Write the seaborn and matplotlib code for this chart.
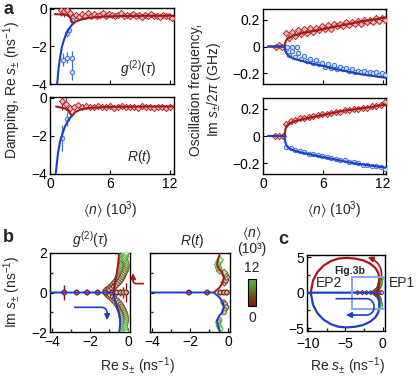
import matplotlib

matplotlib.use("Agg", force=True)

import matplotlib.pyplot as plt
import seaborn as sns
import numpy as np
from matplotlib.colors import LinearSegmentedColormap, Normalize
from matplotlib.cm import ScalarMappable
from matplotlib.patches import Rectangle, PathPatch
from matplotlib.path import Path
from matplotlib.ticker import MultipleLocator, FixedLocator, FixedFormatter

# ---------------- data ----------------
# panel a, top-left: g2 damping
tl_red_x = [1.1, 1.4, 1.7, 2.0, 2.3, 2.6, 2.9, 3.2, 3.5, 3.8, 4.1, 4.4, 4.7, 5.0, 5.3, 5.6, 5.9, 6.2, 6.5,
            6.8, 7.1, 7.4, 7.7, 8.0, 8.3, 8.6, 8.9, 9.2, 9.5, 9.8, 10.1, 10.4, 10.7, 11.0, 11.3, 11.6, 11.9, 12.2]
tl_red_y = [-0.05, -0.1, -0.05, -0.2, -0.45, -0.3, -0.45, -0.25, -0.4, -0.2, -0.35, -0.25, -0.4, -0.3, -0.2,
            -0.35, -0.25, -0.3, -0.4, -0.3, -0.2, -0.35, -0.3, -0.4, -0.25, -0.35, -0.3, -0.45, -0.3, -0.35,
            -0.25, -0.4, -0.35, -0.45, -0.3, -0.4, -0.35, -0.5]
tl_red_err = [0.3, 0.35, 0.3, 0.25, 0.2] + [0.06] * 33
tl_blue_x = [1.65, 1.85, 2.2, 1.25, 1.65, 2.15, 2.15]
tl_blue_y = [-1.3, -1.1, -0.6, -2.7, -2.6, -2.6, -3.35]
tl_blue_err = [0.2, 0.15, 0.1, 0.35, 0.3, 0.35, 0.45]
tl_red_fit_x = [0.5, 1.0, 1.5, 1.8, 2.0, 2.15, 2.3, 2.5, 2.8, 3.3, 4.0, 5.3, 7.0, 9.0, 12.4]
tl_red_fit_y = [-0.28, -0.29, -0.31, -0.34, -0.45, -0.62, -0.8, -0.7, -0.62, -0.54, -0.47, -0.41, -0.38, -0.37, -0.36]
tl_blue_fit_x = [2.3, 2.2, 2.0, 1.8, 1.6, 1.4, 1.2, 1.0, 0.85, 0.7]
tl_blue_fit_y = [-0.8, -0.85, -0.98, -1.15, -1.35, -1.65, -2.0, -2.6, -3.2, -4.1]

# panel a, bottom-left: R(t) damping
bl_red_x = [1.2, 1.6, 2.0, 2.4, 2.8, 3.2, 3.6, 4.0, 4.4, 4.8, 5.2, 5.6, 6.0, 6.4, 6.8, 7.2, 7.6, 8.0, 8.4,
            8.8, 9.2, 9.6, 10.0, 10.4, 10.8, 11.2, 11.6, 12.0]
bl_red_y = [-0.15, -0.3, -0.55, -0.5, -0.35, -0.45, -0.4, -0.5, -0.45, -0.4, -0.5, -0.45, -0.4, -0.55, -0.45,
            -0.4, -0.5, -0.45, -0.45, -0.55, -0.4, -0.5, -0.45, -0.55, -0.5, -0.45, -0.55, -0.5]
bl_red_err = [0.5, 0.35, 0.2] + [0.05] * 25
bl_blue_x = [1.15, 1.7]
bl_blue_y = [-2.1, -1.1]
bl_blue_err = [0.7, 0.35]
bl_red_fit_x = [0.6, 1.0, 1.5, 1.8, 2.0, 2.2, 2.5, 3.0, 3.5, 4.0, 5.0, 6.0, 8.0, 10.0, 12.4]
bl_red_fit_y = [-0.45, -0.5, -0.55, -0.65, -0.8, -0.95, -0.75, -0.62, -0.56, -0.52, -0.49, -0.47, -0.46, -0.45, -0.45]
bl_blue_fit_x = [2.2, 2.0, 1.8, 1.5, 1.3, 1.0, 0.8, 0.55]
bl_blue_fit_y = [-0.95, -1.05, -1.2, -1.5, -1.8, -2.3, -2.9, -4.1]

# panel a, top-right: g2 frequency
tr_x = [2.3, 2.6, 2.9, 3.2, 3.5, 3.8, 4.1, 4.4, 4.7, 5.0, 5.3, 5.6, 5.9, 6.2, 6.5, 6.8, 7.1, 7.4, 7.7, 8.0,
        8.3, 8.6, 8.9, 9.2, 9.5, 9.8, 10.1, 10.4, 10.7, 11.0, 11.3, 11.6, 11.9, 12.2]
tr_red_y = [0.1, 0.06, 0.11, 0.08, 0.12, 0.09, 0.13, 0.1, 0.14, 0.11, 0.14, 0.12, 0.15, 0.13, 0.16, 0.13,
            0.17, 0.15, 0.17, 0.15, 0.18, 0.16, 0.18, 0.17, 0.19, 0.17, 0.2, 0.18, 0.2, 0.18, 0.21, 0.19, 0.21, 0.2]
tr_blue_y = [-0.02, -0.06, -0.03, -0.08, -0.05, -0.09, -0.07, -0.11, -0.09, -0.12, -0.1, -0.13, -0.12, -0.15,
             -0.13, -0.16, -0.14, -0.17, -0.15, -0.17, -0.16, -0.18, -0.17, -0.19, -0.18, -0.19, -0.18, -0.2,
             -0.19, -0.2, -0.19, -0.21, -0.2, -0.21]
tr_red0_x = [1.3, 1.6, 1.9]
tr_red0_y = [0.0, 0.01, 0.0]
tr_blue0_x = [2.4, 2.9, 3.4]
tr_blue0_y = [0.0, 0.0, 0.0]
tr_fit_x = [0.5, 1.5, 2.0, 2.15, 2.2, 2.25, 2.35, 2.5, 3.0, 4.0, 5.0, 6.0, 7.0, 8.0, 9.0, 10.0, 11.0, 12.4]
tr_red_fit_y = [0, 0, 0, 0, 0.02, 0.035, 0.05, 0.06, 0.08, 0.1, 0.115, 0.13, 0.145, 0.16, 0.175, 0.19, 0.2, 0.22]
tr_blue_fit_y = [0, 0, 0, 0, -0.02, -0.035, -0.05, -0.065, -0.09, -0.11, -0.13, -0.145, -0.165, -0.18,
                 -0.195, -0.21, -0.22, -0.235]

# panel a, bottom-right: R(t) frequency
br_x = [2.3, 2.75, 3.2, 3.65, 4.1, 4.55, 5.0, 5.45, 5.9, 6.35, 6.8, 7.25, 7.7, 8.15, 8.6, 9.05, 9.5, 9.95,
        10.4, 10.85, 11.3, 11.75, 12.2]
br_red_y = [0.09, 0.11, 0.12, 0.13, 0.135, 0.14, 0.15, 0.155, 0.16, 0.165, 0.17, 0.175, 0.18, 0.19, 0.19,
            0.2, 0.2, 0.21, 0.21, 0.22, 0.22, 0.23, 0.25]
br_blue_y = [-0.08, -0.09, -0.1, -0.11, -0.12, -0.13, -0.135, -0.14, -0.15, -0.155, -0.16, -0.17, -0.175,
             -0.18, -0.19, -0.19, -0.2, -0.21, -0.21, -0.22, -0.22, -0.23, -0.24]
br_zero_x = [1.2, 1.6, 2.0]
br_zero_y = [0.0, 0.0, 0.0]
br_fit_x = [0.5, 1.5, 2.0, 2.15, 2.2, 2.25, 2.35, 2.5, 3.0, 4.0, 5.0, 6.0, 7.0, 8.0, 9.0, 10.0, 11.0, 12.4]
br_red_fit_y = [0, 0, 0, 0, 0.03, 0.05, 0.07, 0.085, 0.105, 0.125, 0.14, 0.155, 0.17, 0.185, 0.195, 0.205,
                0.215, 0.235]
br_blue_fit_y = [0, 0, 0, 0, -0.03, -0.05, -0.07, -0.085, -0.105, -0.125, -0.14, -0.155, -0.17, -0.185,
                 -0.2, -0.21, -0.22, -0.235]

# panel b, left: g2 complex plane (n in 10^3)
b1_zero_x = [-3.35, -2.7, -2.15, -1.6, -1.2, -0.85, -0.6, -0.4, -0.25, -0.1]
b1_zero_y = [0, 0, 0, 0, 0, 0, 0, 0, 0, 0]
b1_zero_n = [0.6, 0.8, 1.0, 1.2, 1.4, 1.6, 1.8, 2.0, 2.1, 2.2]
b1_zero_err = [0.4, 0.1, 0.05, 0.05, 0.05, 0.1, 0.15, 0.2, 0.3, 0.5]
b1_up_x = [-1.15, -1.0, -0.9, -0.8, -0.7, -0.62, -0.55, -0.5, -0.45, -0.42, -0.4, -0.38, -0.35, -0.33, -0.3,
           -0.28, -0.3, -0.25, -0.22, -0.2]
b1_up2_x = [-0.95, -0.82, -0.72, -0.6, -0.5, -0.42, -0.35, -0.3, -0.25, -0.2, -0.15, -0.12, -0.1, -0.1,
            -0.12, -0.15, -0.18, -0.15, -0.12, -0.1]
b1_up_y = [0.12, 0.22, 0.3, 0.4, 0.5, 0.6, 0.7, 0.8, 0.9, 1.0, 1.1, 1.2, 1.3, 1.4, 1.5, 1.6, 1.7, 1.8, 1.9, 2.0]
b1_dn_x = [-1.1, -1.0, -0.88, -0.78, -0.68, -0.6, -0.52, -0.48, -0.44, -0.4, -0.38, -0.36, -0.34, -0.32, -0.3,
           -0.3, -0.28, -0.26, -0.24, -0.22]
b1_dn2_x = [-0.95, -0.8, -0.7, -0.58, -0.48, -0.4, -0.33, -0.28, -0.22, -0.18, -0.14, -0.12, -0.1, -0.1,
            -0.12, -0.14, -0.16, -0.14, -0.12, -0.1]
b1_dn_y = [-0.12, -0.2, -0.3, -0.4, -0.5, -0.6, -0.7, -0.8, -0.9, -1.0, -1.1, -1.2, -1.3, -1.4, -1.5, -1.6,
           -1.7, -1.8, -1.9, -2.0]
b1_branch_n = [2.3, 2.6, 2.9, 3.2, 3.5, 3.8, 4.2, 4.6, 5.0, 5.5, 6.0, 6.5, 7.0, 7.5, 8.0, 8.5, 9.5, 10.5, 11.2, 12.0]
b1_red_x = [-0.77, -0.68, -0.59, -0.52, -0.47]
b1_red_y = [0.0, 0.5, 1.0, 1.5, 2.05]
b1_blue_x = [-4.2, -0.77, -0.72, -0.62, -0.5, -0.42, -0.42, -0.47]
b1_blue_y = [0.0, 0.0, -0.3, -0.6, -0.95, -1.3, -1.65, -2.05]

# panel b, right: R(t) complex plane
b2_zero_x = [-2.05, -1.1, -0.41, -0.22, -0.07]
b2_zero_y = [0, 0, 0, 0, 0]
b2_zero_n = [1.0, 1.4, 1.8, 2.0, 2.2]
b2_up_x = [-0.2, -0.12, -0.08, -0.15, -0.2, -0.45, -0.5, -0.55, -0.48, -0.42]
b2_up_y = [0.5, 0.62, 0.78, 0.9, 1.0, 1.1, 1.25, 1.4, 1.55, 1.65]
b2_dn_x = [-0.25, -0.15, -0.1, -0.18, -0.22, -0.45, -0.52, -0.5, -0.45, -0.4]
b2_dn_y = [-0.5, -0.6, -0.75, -0.88, -1.0, -1.4, -1.5, -1.65, -1.75, -1.85]
b2_branch_n = [3.0, 3.5, 4.0, 5.0, 6.0, 8.0, 9.0, 10.0, 11.0, 12.0]
b2_red_x = [-0.75, -0.65, -0.45, -0.28, -0.22, -0.3, -0.48, -0.58, -0.52, -0.4]
b2_red_y = [0.0, 0.08, 0.25, 0.5, 0.75, 1.0, 1.2, 1.4, 1.7, 2.05]
b2_blue_x = [-4.2, -0.75, -0.65, -0.45, -0.28, -0.22, -0.3, -0.48, -0.58, -0.52, -0.4]
b2_blue_y = [0.0, 0.0, -0.08, -0.25, -0.5, -0.75, -1.0, -1.2, -1.4, -1.7, -2.05]

# panel c: full trajectory
c_red_x = [-0.77, -0.55, -0.45, -0.6, -1.0, -1.7, -2.6, -3.7, -4.8, -5.9, -6.9, -7.9, -8.7, -9.3, -9.6]
c_red_y = [0.0, 1.0, 2.0, 2.8, 3.5, 4.1, 4.55, 4.8, 4.9, 4.8, 4.45, 3.8, 2.9, 1.7, 0.0]
c_blue_x = [-10.3, -0.77, -0.5, -0.45, -0.6, -1.0, -1.7, -2.6, -3.7, -4.8, -5.9, -6.9, -7.9, -8.7, -9.3, -9.6]
c_blue_y = [0.0, 0.0, -1.0, -2.0, -2.8, -3.5, -4.1, -4.55, -4.8, -4.9, -4.8, -4.45, -3.8, -2.9, -1.7, 0.0]

# ---------------- style ----------------
RED_LINE = "#a3161a"
BLUE_LINE = "#1c3fc4"
RED_EDGE = "#b8262b"
RED_FACE = "#f3b9b9"
BLUE_EDGE = "#3d6fd6"
BLUE_FACE = "#cddcf5"
NCMAP = LinearSegmentedColormap.from_list("n", ["#8a0f0f", "#6e4a1e", "#5f8a2a", "#4fc03a"])

sns.set_theme(style="ticks", rc={
    "xtick.direction": "in", "ytick.direction": "in",
    "xtick.major.size": 3, "ytick.major.size": 3,
    "xtick.minor.size": 2, "ytick.minor.size": 2,
    "xtick.major.width": 0.8, "ytick.major.width": 0.8,
    "axes.linewidth": 1.0, "axes.edgecolor": "black",
})
plt.rcParams["font.family"] = ["Liberation Sans", "DejaVu Sans"]
plt.rcParams["mathtext.fontset"] = "custom"
plt.rcParams["mathtext.rm"] = "Liberation Sans"
plt.rcParams["mathtext.it"] = "Liberation Sans:italic"
plt.rcParams["mathtext.bf"] = "Liberation Sans:bold"
plt.rcParams["mathtext.fallback"] = "stixsans"

W, H = 416, 377
fig = plt.figure(figsize=(W / 100, H / 100), dpi=100)


def rect(l, t, r, b):
    return [l / W, 1 - b / H, (r - l) / W, (b - t) / H]


def curve(ax, x, y, color, lw=1.5):
    sns.lineplot(x=x, y=y, ax=ax, color=color, lw=lw, sort=False, estimator=None, zorder=4)


def points(ax, x, y, marker, edge, face, yerr=None, s=10):
    if yerr is not None:
        ax.errorbar(x, y, yerr=yerr, fmt="none", ecolor=edge, elinewidth=0.9, capsize=0, zorder=2)
    sns.scatterplot(x=x, y=y, ax=ax, marker=marker, color=face, edgecolor=edge, linewidth=0.7, s=s, zorder=3)


def n_points(ax, x, y, n, marker, s=12, lw=0.7):
    sns.scatterplot(x=x, y=y, hue=n, palette=NCMAP, hue_norm=(0, 12), marker=marker, s=s,
                    linewidth=lw, legend=False, ax=ax, zorder=3)
    coll = ax.collections[-1]
    edge = np.array(coll.get_facecolors())
    face = edge.copy()
    face[:, :3] = face[:, :3] * 0.3 + 0.7
    coll.set_edgecolors(edge)
    coll.set_facecolors(face)


def finish(ax):
    ax.set_xlabel("")
    ax.set_ylabel("")
    ax.tick_params(labelsize=10, pad=2, colors="black")
    for sp in ax.spines.values():
        sp.set_color("black")


# ---------------- panel a ----------------
ax_tl = fig.add_axes(rect(50, 8, 174, 84))
ax_bl = fig.add_axes(rect(50, 97, 174, 174))
ax_tr = fig.add_axes(rect(263, 9, 386, 84))
ax_br = fig.add_axes(rect(263, 98, 386, 174))

points(ax_tl, tl_red_x, tl_red_y, "D", RED_EDGE, RED_FACE, tl_red_err)
points(ax_tl, tl_blue_x, tl_blue_y, "o", BLUE_EDGE, BLUE_FACE, tl_blue_err)
curve(ax_tl, tl_red_fit_x, tl_red_fit_y, RED_LINE)
curve(ax_tl, tl_blue_fit_x, tl_blue_fit_y, BLUE_LINE)
ax_tl.text(0.71, 0.2, r"$g^{(2)}(\tau)$", transform=ax_tl.transAxes, ha="center", va="center", fontsize=10)

points(ax_bl, bl_red_x, bl_red_y, "D", RED_EDGE, RED_FACE, bl_red_err)
points(ax_bl, bl_blue_x, bl_blue_y, "o", BLUE_EDGE, BLUE_FACE, bl_blue_err)
curve(ax_bl, bl_red_fit_x, bl_red_fit_y, RED_LINE)
curve(ax_bl, bl_blue_fit_x, bl_blue_fit_y, BLUE_LINE)
ax_bl.text(0.72, 0.22, r"$R(t)$", transform=ax_bl.transAxes, ha="center", va="center", fontsize=10)

for ax in (ax_tl, ax_bl):
    ax.set_xlim(0, 12.4)
    ax.set_ylim(-4, 0.05)
    ax.set_yticks([-4, -2, 0])
    ax.set_yticklabels(["\u22124", "\u22122", "0"])
    ax.set_xticks([0, 6, 12])

points(ax_tr, tr_x, tr_red_y, "D", RED_EDGE, RED_FACE)
points(ax_tr, tr_x, tr_blue_y, "o", BLUE_EDGE, BLUE_FACE)
points(ax_tr, tr_red0_x, tr_red0_y, "D", RED_EDGE, RED_FACE)
points(ax_tr, tr_blue0_x, tr_blue0_y, "o", BLUE_EDGE, BLUE_FACE)
curve(ax_tr, tr_fit_x, tr_red_fit_y, RED_LINE)
curve(ax_tr, tr_fit_x, tr_blue_fit_y, BLUE_LINE)

points(ax_br, br_x, br_red_y, "D", RED_EDGE, RED_FACE)
points(ax_br, br_x, br_blue_y, "o", BLUE_EDGE, BLUE_FACE)
points(ax_br, br_zero_x, br_zero_y, "D", RED_EDGE, RED_FACE)
curve(ax_br, br_fit_x, br_red_fit_y, RED_LINE)
curve(ax_br, br_fit_x, br_blue_fit_y, BLUE_LINE)

for ax in (ax_tr, ax_br):
    ax.set_xlim(0, 12.3)
    ax.set_ylim(-0.28, 0.28)
    ax.set_yticks([-0.2, 0, 0.2])
    ax.set_yticklabels(["\u22120.2", "0", "0.2"])
    ax.set_xticks([0, 6, 12])

for ax in (ax_tl, ax_bl, ax_tr, ax_br):
    finish(ax)
for ax in (ax_tl, ax_tr):
    ax.tick_params(labelbottom=False)

# ---------------- panel b ----------------
ax_b1 = fig.add_axes(rect(50, 253, 130, 332))
ax_b2 = fig.add_axes(rect(150, 253, 230, 332))

ax_b1.errorbar(b1_zero_x, b1_zero_y, yerr=b1_zero_err, fmt="none", ecolor="#7a1010", elinewidth=1.0, zorder=2)
curve(ax_b1, b1_red_x, b1_red_y, RED_LINE, lw=1.4)
n_points(ax_b1, b1_up_x, b1_up_y, b1_branch_n, "D")
n_points(ax_b1, b1_up2_x, b1_up_y, b1_branch_n, "D")
n_points(ax_b1, b1_dn_x, b1_dn_y, b1_branch_n, "o")
n_points(ax_b1, b1_dn2_x, b1_dn_y, b1_branch_n, "o")
n_points(ax_b1, b1_zero_x, b1_zero_y, b1_zero_n, "o")
n_points(ax_b1, b1_zero_x, b1_zero_y, b1_zero_n, "D", s=7)
curve(ax_b1, b1_blue_x, b1_blue_y, BLUE_LINE, lw=1.4)

curve(ax_b2, b2_red_x, b2_red_y, RED_LINE, lw=1.4)
n_points(ax_b2, b2_up_x, b2_up_y, b2_branch_n, "D")
n_points(ax_b2, b2_dn_x, b2_dn_y, b2_branch_n, "o")
n_points(ax_b2, b2_zero_x, b2_zero_y, b2_zero_n, "o")
n_points(ax_b2, b2_zero_x, b2_zero_y, b2_zero_n, "D", s=7)
curve(ax_b2, b2_blue_x, b2_blue_y, BLUE_LINE, lw=1.4)

for ax in (ax_b1, ax_b2):
    ax.set_xlim(-4.1, 0.1)
    ax.set_ylim(-2, 2)
    ax.xaxis.set_major_locator(FixedLocator([-4, -2, 0]))
    ax.xaxis.set_major_formatter(FixedFormatter(["\u22124", "\u22122", "0"]))
    ax.xaxis.set_minor_locator(MultipleLocator(1))
    ax.yaxis.set_major_locator(FixedLocator([-2, 0, 2]))
    ax.yaxis.set_major_formatter(FixedFormatter(["\u22122", "0", "2"]))
    ax.yaxis.set_minor_locator(MultipleLocator(1))
    finish(ax)
ax_b2.tick_params(labelleft=False)

ax_b1.annotate("", xy=(0.26, 0.98), xytext=(0.8, 0.45), annotation_clip=False,
               arrowprops=dict(arrowstyle="-|>", color=RED_LINE, lw=1.2, mutation_scale=8,
                               shrinkA=0, shrinkB=0,
                               connectionstyle="angle,angleA=0,angleB=90,rad=3"))
ax_b1.annotate("", xy=(-1.1, -1.4), xytext=(-2.8, -0.75),
               arrowprops=dict(arrowstyle="-|>", color=BLUE_LINE, lw=1.2, mutation_scale=8,
                               shrinkA=0, shrinkB=0,
                               connectionstyle="angle,angleA=0,angleB=90,rad=6"))

# colour bar for <n>
cax = fig.add_axes(rect(248, 279, 256, 306))
cb = fig.colorbar(ScalarMappable(norm=Normalize(0, 12), cmap=NCMAP), cax=cax)
cb.set_ticks([])
cb.outline.set_linewidth(0.8)
fig.text(252 / W, 1 - 233 / H, r"$\langle n\rangle$", ha="center", va="center", fontsize=10)
fig.text(252 / W, 1 - 249 / H, "(10\u00b3)", ha="center", va="center", fontsize=10)
fig.text(252 / W, 1 - 268 / H, "12", ha="center", va="center", fontsize=10)
fig.text(252 / W, 1 - 318 / H, "0", ha="center", va="center", fontsize=10)

# ---------------- panel c ----------------
ax_c = fig.add_axes(rect(307, 255, 385, 331))
curve(ax_c, c_red_x, c_red_y, RED_LINE, lw=1.6)
curve(ax_c, c_blue_x, c_blue_y, BLUE_LINE, lw=1.6)
n_points(ax_c, b1_up_x, b1_up_y, b1_branch_n, "D", s=5, lw=0.6)
n_points(ax_c, b1_dn_x, b1_dn_y, b1_branch_n, "o", s=5, lw=0.6)
n_points(ax_c, b1_zero_x, b1_zero_y, b1_zero_n, "D", s=5, lw=0.6)
ax_c.add_patch(Rectangle((-4.1, -2.3), 4.4, 4.5, fill=False, edgecolor="#8aa6ea", lw=1.4, zorder=5))
u_path = Path([(-6.3, -0.85), (-2.2, -0.85), (-0.8, -0.85), (-0.8, -3.15), (-2.2, -3.15), (-4.0, -3.15)],
              [Path.MOVETO, Path.LINETO, Path.CURVE4, Path.CURVE4, Path.CURVE4, Path.LINETO])
ax_c.add_patch(PathPatch(u_path, fill=False, edgecolor=BLUE_LINE, lw=1.2, zorder=6))
ax_c.annotate("", xy=(-4.9, -3.15), xytext=(-3.9, -3.15),
              arrowprops=dict(arrowstyle="-|>", color=BLUE_LINE, lw=1.2, mutation_scale=8, shrinkA=0, shrinkB=0))
ax_c.annotate("", xy=(-2.0, 5.0), xytext=(-0.2, 1.8), annotation_clip=False,
              arrowprops=dict(arrowstyle="-|>", color=RED_LINE, lw=1.2, mutation_scale=8, shrinkA=0, shrinkB=0,
                              connectionstyle="arc3,rad=0.4"))
ax_c.text(-4.4, 3.1, "Fig.3b", fontsize=7.5, fontweight="bold", ha="center", va="center")
ax_c.text(-7.1, 1.4, "EP2", fontsize=10, ha="center", va="center")
ax_c.text(2.6, 1.4, "EP1", fontsize=10, ha="center", va="center", clip_on=False)
ax_c.set_xlim(-10.1, 0.3)
ax_c.set_ylim(-5.4, 5.3)
ax_c.xaxis.set_major_locator(FixedLocator([-10, -5, 0]))
ax_c.xaxis.set_major_formatter(FixedFormatter(["\u221210", "\u22125", "0"]))
ax_c.xaxis.set_minor_locator(MultipleLocator(2.5))
ax_c.yaxis.set_major_locator(FixedLocator([-5, 0, 5]))
ax_c.yaxis.set_major_formatter(FixedFormatter(["\u22125", "0", "5"]))
ax_c.yaxis.set_minor_locator(MultipleLocator(2.5))
finish(ax_c)
ax_c.tick_params(axis="x", pad=4)

# ---------------- labels ----------------
fig.text(8 / W, 1 - 10 / H, "a", fontsize=13, fontweight="bold", ha="center", va="center")
fig.text(8 / W, 1 - 238 / H, "b", fontsize=13, fontweight="bold", ha="center", va="center")
fig.text(283 / W, 1 - 240 / H, "c", fontsize=13, fontweight="bold", ha="center", va="center")

fig.text(12 / W, 1 - 90 / H, r"Damping, Re $s_{\pm}$ (ns$^{-1}$)", rotation=90,
         ha="center", va="center", fontsize=10)
fig.text(206 / W, 1 - 90 / H, "Oscillation frequency,\n" + r"Im $s_{\pm}/2\pi$ (GHz)", rotation=90,
         ha="center", va="center", fontsize=10, linespacing=1.15)
fig.text(110 / W, 1 - 210 / H, r"$\langle n\rangle$ (10$^3$)", ha="center", va="center", fontsize=10)
fig.text(334 / W, 1 - 210 / H, r"$\langle n\rangle$ (10$^3$)", ha="center", va="center", fontsize=10)

fig.text(90 / W, 1 - 240 / H, r"$g^{(2)}(\tau)$", ha="center", va="center", fontsize=10)
fig.text(192 / W, 1 - 241 / H, r"$R(t)$", ha="center", va="center", fontsize=10)
fig.text(12 / W, 1 - 292 / H, r"Im $s_{\pm}$ (ns$^{-1}$)", rotation=90, ha="center", va="center", fontsize=10)
fig.text(137 / W, 1 - 366 / H, r"Re $s_{\pm}$ (ns$^{-1}$)", ha="center", va="center", fontsize=10)
fig.text(347 / W, 1 - 366 / H, r"Re $s_{\pm}$ (ns$^{-1}$)", ha="center", va="center", fontsize=10)

fig.savefig("out.png", dpi=100)
plt.close(fig)
